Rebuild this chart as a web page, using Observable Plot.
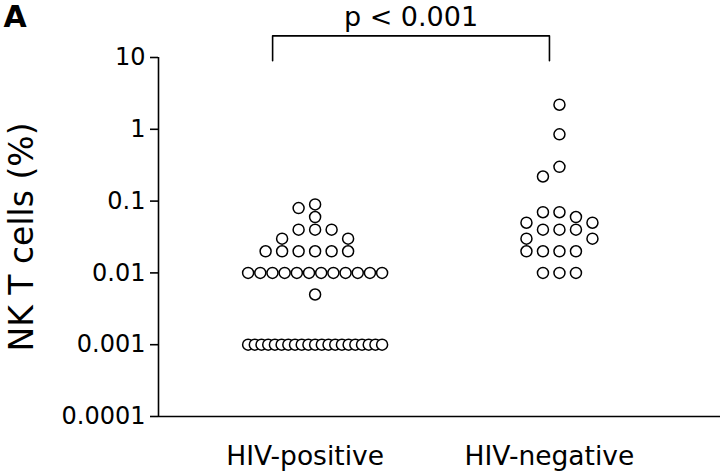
<!DOCTYPE html>
<html><head><meta charset="utf-8">
<script src="https://cdn.jsdelivr.net/npm/d3@7"></script>
<script src="https://cdn.jsdelivr.net/npm/@observablehq/plot@0.6"></script>
<style>body{margin:0;background:#fff}</style>
</head><body><div id="chart"></div>
<script>
// ---- data ----
const categories = ["HIV-positive", "HIV-negative"];
const hivPositive = [
  0.09, 0.08, 0.06,
  0.04, 0.04, 0.04,
  0.03, 0.03,
  0.02, 0.02, 0.02, 0.02, 0.02, 0.02,
  0.01, 0.01, 0.01, 0.01, 0.01, 0.01, 0.01, 0.01, 0.01, 0.01, 0.01, 0.01,
  0.005,
  0.001, 0.001, 0.001, 0.001, 0.001, 0.001, 0.001, 0.001, 0.001, 0.001, 0.001,
  0.001, 0.001, 0.001, 0.001, 0.001, 0.001, 0.001, 0.001, 0.001, 0.001
];
const hivNegative = [
  2.2, 0.85, 0.3, 0.22,
  0.07, 0.07, 0.06, 0.05, 0.05,
  0.04, 0.04, 0.04,
  0.03, 0.03,
  0.02, 0.02, 0.02, 0.02,
  0.01, 0.01, 0.01
];
const yTicks = [0.0001, 0.001, 0.01, 0.1, 1, 10];
const yLabel = "NK T cells (%)";
const panelLabel = "A";
const pText = "p < 0.001";
const bracketX = [-0.133, -0.133, 1.0, 1.0];
const bracketY = [9, 20, 20, 9];

// ---- layout ----
const W = 720, H = 474;
const marginLeft = 158, marginRight = 0, marginTop = 57, marginBottom = 58;
const xDomain = [-0.6, 1.7];
const yDomain = [1e-4, 10];
const xs = Plot.scale({x: {domain: xDomain, range: [marginLeft, W - marginRight]}});
const ys = Plot.scale({y: {type: "log", domain: yDomain, range: [H - marginBottom, marginTop]}});
const unit = xs.apply(1) - xs.apply(0);
const step = 16.5, minDist = 12, crowdWidth = 134, crowdCount = 8;

function layout(values, gi) {
  const placed = [];
  const out = [];
  const counts = d3.rollup(values, v => v.length, d => d);
  for (const [v, n] of counts) {
    if (n < crowdCount) continue;
    for (let i = 0; i < n; i++) {
      const off = -crowdWidth / 2 + i * crowdWidth / (n - 1);
      placed.push({px: off, py: ys.apply(v)});
      out.push({group: categories[gi], value: v, x: gi + off / unit});
    }
  }
  const rest = values.filter(v => counts.get(v) < crowdCount).sort((a, b) => b - a);
  for (const v of rest) {
    const py = ys.apply(v);
    for (let k = 0; k < 40; k++) {
      const slot = k === 0 ? 0 : (k % 2 ? -(k + 1) / 2 : k / 2);
      const px = slot * step;
      if (placed.every(p => Math.hypot(p.px - px, p.py - py) >= minDist)) {
        placed.push({px, py});
        out.push({group: categories[gi], value: v, x: gi + px / unit});
        break;
      }
    }
  }
  return out;
}
const points = [...layout(hivPositive, 0), ...layout(hivNegative, 1)];
const bracket = bracketX.map((x, i) => ({x, y: bracketY[i]}));
const pMid = [{x: d3.mean(bracketX), y: d3.max(bracketY), text: pText}];

const chart = Plot.plot({
  width: W, height: H,
  marginLeft, marginRight, marginTop, marginBottom,
  style: {fontFamily: "DejaVu Sans", color: "black", background: "white"},
  x: {domain: xDomain, range: [marginLeft, W - marginRight]},
  y: {type: "log", domain: yDomain, range: [H - marginBottom, marginTop]},
  marks: [
    Plot.ruleY([yDomain[0]], {stroke: "black", strokeWidth: 1.6}),
    Plot.ruleX([xDomain[0]], {stroke: "black", strokeWidth: 1.6}),
    Plot.axisY({ticks: yTicks, tickFormat: d => String(d), tickSize: 8, tickPadding: 5,
      fontSize: 24, strokeWidth: 1.6, label: null}),
    Plot.axisX({ticks: [0, 1], tickFormat: i => categories[i], tickSize: 0, tickPadding: 30,
      fontSize: 26.5, label: null}),
    Plot.dot(points, {x: "x", y: "value", r: 5.5, stroke: "black", strokeWidth: 1.5, fill: "white", dx: 10}),
    Plot.line(bracket, {x: "x", y: "y", stroke: "black", strokeWidth: 1.6}),
    Plot.text(pMid, {x: "x", y: "y", text: "text", fontSize: 27, dy: -10, lineAnchor: "bottom", fill: "black"}),
    Plot.text([yLabel], {frameAnchor: "left", dx: -136, rotate: -90, fontSize: 33, fill: "black", textAnchor: "middle"}),
    Plot.text([panelLabel], {frameAnchor: "top-left", dx: -marginLeft + 3, dy: -marginTop + 5, textAnchor: "start",
      lineAnchor: "top", fontSize: 30, fontWeight: "bold", fill: "black"})
  ]
});
document.getElementById("chart").appendChild(chart);
</script>
</body></html>
